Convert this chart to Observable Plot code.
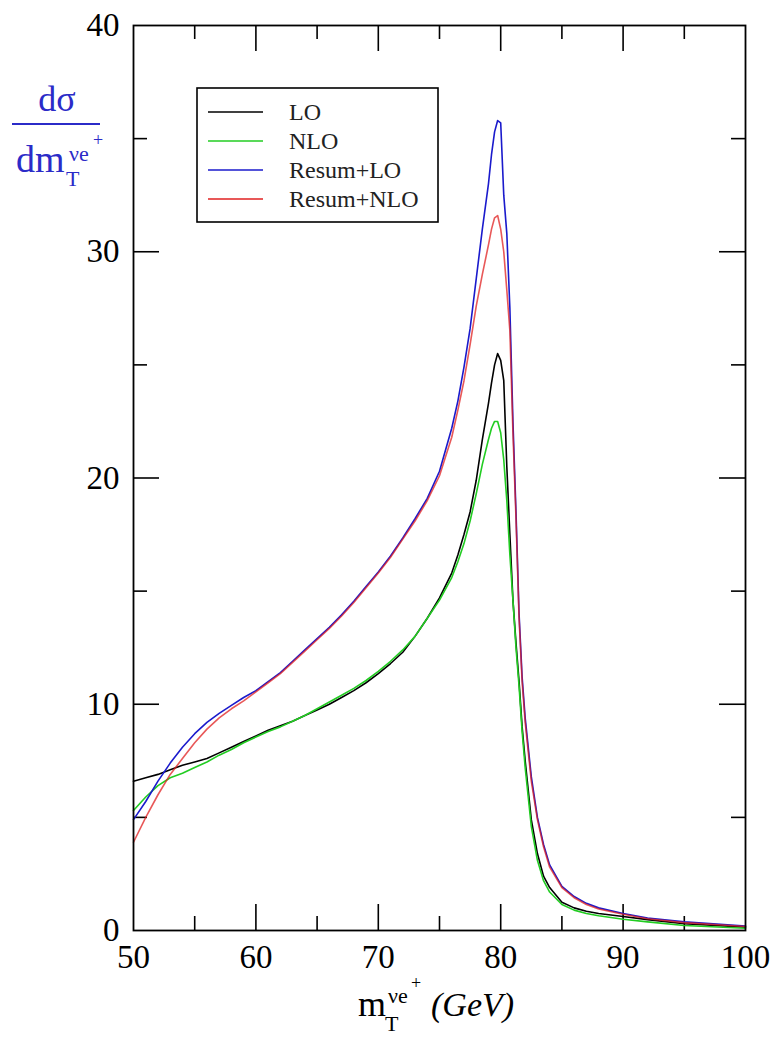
<!DOCTYPE html>
<html><head><meta charset="utf-8">
<script src="https://cdn.jsdelivr.net/npm/d3@7"></script>
<script src="https://cdn.jsdelivr.net/npm/@observablehq/plot@0.6"></script>
<style>body{margin:0;background:#fff}</style>
</head><body><div id="chart"></div>
<script>
// ---- data ----
const mT = [50,51,52,53,54,55,56,57,58,59,60,61,62,63,64,65,66,67,68,69,70,71,72,73,74,75,76,76.5,77,77.5,78,78.5,79,79.25,79.5,79.75,80,80.25,80.5,80.75,81,81.25,81.5,81.75,82,82.5,83,83.5,84,85,86,87,88,90,92,95,100];
const LO = [6.6,6.75,6.9,7.1,7.3,7.45,7.6,7.85,8.1,8.35,8.6,8.85,9.05,9.25,9.5,9.75,10.0,10.3,10.6,10.95,11.35,11.8,12.3,13.0,13.8,14.7,15.8,16.6,17.5,18.5,19.9,21.7,23.3,24.2,25.0,25.5,25.2,24.3,20.5,17.5,14.6,12.7,11.0,9.0,7.5,4.9,3.4,2.4,1.9,1.25,1.0,0.85,0.75,0.62,0.48,0.3,0.15];
const NLO = [5.3,5.9,6.4,6.75,6.95,7.2,7.45,7.75,8.0,8.3,8.55,8.8,9.0,9.25,9.5,9.8,10.1,10.4,10.7,11.05,11.45,11.9,12.4,13.0,13.8,14.6,15.6,16.3,17.1,18.1,19.3,20.6,21.7,22.2,22.5,22.5,22.0,20.8,19.0,16.6,14.6,12.5,10.8,8.8,7.2,4.6,3.1,2.2,1.7,1.15,0.9,0.75,0.65,0.5,0.38,0.22,0.1];
const ResumLO = [4.9,5.7,6.6,7.4,8.1,8.7,9.2,9.6,9.95,10.3,10.6,11.0,11.4,11.9,12.4,12.9,13.4,13.95,14.55,15.2,15.85,16.55,17.35,18.2,19.1,20.3,22.2,23.4,24.9,26.6,28.8,31.0,33.0,34.3,35.3,35.8,35.7,32.5,30.8,27.5,22.5,18.5,14.0,11.2,9.4,6.8,5.0,3.8,2.9,1.95,1.5,1.2,1.0,0.75,0.55,0.38,0.2];
const ResumNLO = [3.9,5.0,6.0,6.9,7.6,8.3,8.9,9.4,9.8,10.15,10.55,10.95,11.35,11.85,12.35,12.85,13.35,13.9,14.5,15.15,15.8,16.5,17.3,18.1,19.0,20.1,21.8,23.0,24.3,25.9,27.6,29.0,30.3,31.0,31.5,31.6,31.0,30.0,28.3,26.5,22.0,18.2,13.8,11.0,9.2,6.6,4.9,3.7,2.8,1.9,1.45,1.15,0.95,0.72,0.52,0.35,0.18];
const seriesNames = ["LO","NLO","Resum+LO","Resum+NLO"];
const seriesValues = [LO, NLO, ResumLO, ResumNLO];
const seriesColors = ["#000000","#22cc22","#1a1acc","#e02020"];
const xTicks = [50,60,70,80,90,100];
const xMinor = [55,65,75,85,95];
const yTicks = [0,10,20,30,40];
const yMinor = [5,15,25,35];

// ---- build table ----
const rows = [];
seriesNames.forEach((name,i)=> mT.forEach((x,j)=> rows.push({series:name, x, y: seriesValues[i][j]})));

const W=780, H=1037, mL=133, mR=35, mTop=25, mB=107;
const innerH = H-mTop-mB, innerW = W-mL-mR;
const MAJ=26, MIN=14;
const inner = v => v.slice(1,-1);

const svg = Plot.plot({
  width: W, height: H,
  marginLeft: mL, marginRight: mR, marginTop: mTop, marginBottom: mB,
  x: {domain:[50,100]},
  y: {domain:[0,40]},
  style: {fontFamily:"'Liberation Serif','Times New Roman',serif", fontSize:"33px", color:"#000", background:"#fff", overflow:"visible"},
  marks: [
    Plot.tickX(inner(xTicks), {x:d=>d, insetTop: innerH-MAJ, stroke:"#000", strokeWidth:1.6}),
    Plot.tickX(inner(xTicks), {x:d=>d, insetBottom: innerH-MAJ, stroke:"#000", strokeWidth:1.6}),
    Plot.tickX(xMinor, {x:d=>d, insetTop: innerH-MIN, stroke:"#000", strokeWidth:1.6}),
    Plot.tickX(xMinor, {x:d=>d, insetBottom: innerH-MIN, stroke:"#000", strokeWidth:1.6}),
    Plot.tickY(inner(yTicks), {y:d=>d, insetRight: innerW-MAJ, stroke:"#000", strokeWidth:1.6}),
    Plot.tickY(inner(yTicks), {y:d=>d, insetLeft: innerW-MAJ, stroke:"#000", strokeWidth:1.6}),
    Plot.tickY(yMinor, {y:d=>d, insetRight: innerW-MIN, stroke:"#000", strokeWidth:1.6}),
    Plot.tickY(yMinor, {y:d=>d, insetLeft: innerW-MIN, stroke:"#000", strokeWidth:1.6}),
    ...seriesNames.map((name,i)=> Plot.line(rows.filter(r=>r.series===name), {
      x:"x", y:"y", stroke: seriesColors[i], strokeWidth:1.6,
      strokeOpacity: i===3 ? 0.75 : 1
    })),
    Plot.frame({stroke:"#000", strokeWidth:1.8}),
    Plot.axisX({ticks:xTicks, tickSize:0, tickPadding:14, label:null}),
    Plot.axisY({ticks:yTicks, tickSize:0, tickPadding:14, label:null})
  ]
});
document.getElementById("chart").appendChild(svg);

// ---- legend & axis titles ----
const s = d3.select(svg);
const serif = "'Liberation Serif','Times New Roman',serif";
const lg = s.append("g").attr("text-anchor","start");
lg.append("rect").attr("x",197).attr("y",88).attr("width",241).attr("height",134)
  .attr("fill","#fff").attr("stroke","#000").attr("stroke-width",1.6);
const rowY = [112,141,170,199];
seriesNames.forEach((name,i)=>{
  lg.append("line").attr("x1",208).attr("x2",263).attr("y1",rowY[i]).attr("y2",rowY[i])
    .attr("stroke",seriesColors[i]).attr("stroke-width",1.6);
  lg.append("text").attr("x",289).attr("y",rowY[i]).attr("dy","0.35em").attr("text-anchor","start")
    .attr("font-family",serif).attr("font-size",24).attr("fill","#222").text(name);
});

// y title (fraction)
const blue = "#2b2bc8";
const yt = s.append("g").attr("fill",blue).attr("font-family",serif).attr("text-anchor","start");
yt.append("text").attr("x",57).attr("y",111).attr("text-anchor","middle").attr("font-size",36).text("dσ");
yt.append("line").attr("x1",12).attr("x2",100).attr("y1",124).attr("y2",124).attr("stroke",blue).attr("stroke-width",2);
yt.append("text").attr("x",16).attr("y",172).attr("text-anchor","start").attr("font-size",38).text("dm");
yt.append("text").attr("x",66).attr("y",186).attr("text-anchor","start").attr("font-size",22).text("T");
yt.append("text").attr("x",69).attr("y",161).attr("text-anchor","start").attr("font-size",22).text("νe");
yt.append("text").attr("x",93).attr("y",146).attr("text-anchor","start").attr("font-size",18).text("+");

// x title
const xt = s.append("g").attr("fill","#000").attr("font-family",serif).attr("text-anchor","start");
xt.append("text").attr("x",358).attr("y",1016).attr("text-anchor","start").attr("font-size",36).text("m");
xt.append("text").attr("x",385).attr("y",1031).attr("text-anchor","start").attr("font-size",22).text("T");
xt.append("text").attr("x",388).attr("y",1003).attr("text-anchor","start").attr("font-size",22).text("νe");
xt.append("text").attr("x",411).attr("y",989).attr("text-anchor","start").attr("font-size",18).text("+");
xt.append("text").attr("x",431).attr("y",1016).attr("text-anchor","start").attr("font-size",34).attr("font-style","italic").text("(GeV)");
</script>
</body></html>
